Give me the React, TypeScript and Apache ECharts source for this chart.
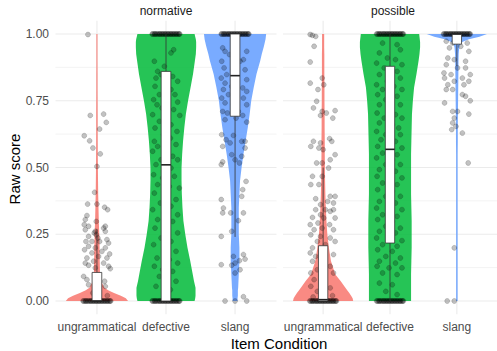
import React, { useEffect, useRef } from "react";
import * as echarts from "echarts";

const categories = ["ungrammatical", "defective", "slang"];
const panelNames = ["normative", "possible"];
const yLabelTicks = [0, 0.25, 0.5, 0.75, 1];
const yMinorTicks = [0.125, 0.375, 0.625, 0.875];
const fillColors = ["#F8766D", "#00BA38", "#619CFF"];

// violin density profiles (relative half-width, 1 = widest) at these score levels
const densityLevels = [0, 0.01, 0.02, 0.03, 0.04, 0.05, 0.075, 0.1, 0.15, 0.2, 0.25, 0.3, 0.35, 0.4, 0.45, 0.5, 0.55, 0.6, 0.65, 0.7, 0.75, 0.8, 0.85, 0.9, 0.925, 0.95, 0.96, 0.97, 0.98, 0.99, 1];
const densNormUngr = [1.0, 0.93, 0.77, 0.55, 0.36, 0.24, 0.13, 0.1, 0.09, 0.085, 0.075, 0.06, 0.05, 0.04, 0.035, 0.03, 0.027, 0.025, 0.024, 0.024, 0.022, 0.02, 0.02, 0.018, 0.018, 0.018, 0.018, 0.018, 0.018, 0.018, 0.018];
const densNormDef = [0.92, 0.94, 0.95, 0.95, 0.95, 0.95, 0.9, 0.86, 0.78, 0.69, 0.62, 0.56, 0.53, 0.51, 0.5, 0.5, 0.52, 0.55, 0.59, 0.64, 0.71, 0.79, 0.87, 0.93, 0.96, 0.97, 0.97, 0.97, 0.96, 0.94, 0.92];
const densNormSlang = [0.08, 0.08, 0.09, 0.09, 0.09, 0.1, 0.11, 0.12, 0.14, 0.14, 0.12, 0.12, 0.12, 0.14, 0.16, 0.21, 0.27, 0.34, 0.41, 0.47, 0.52, 0.6, 0.69, 0.81, 0.86, 0.92, 0.94, 0.96, 0.98, 0.99, 1.0];
const densPossUngr = [1.0, 0.98, 0.93, 0.87, 0.8, 0.74, 0.58, 0.4, 0.26, 0.19, 0.14, 0.11, 0.09, 0.075, 0.065, 0.06, 0.055, 0.055, 0.05, 0.05, 0.045, 0.045, 0.04, 0.04, 0.04, 0.035, 0.035, 0.035, 0.035, 0.035, 0.035];
const densPossDef = [0.7, 0.7, 0.7, 0.7, 0.7, 0.7, 0.7, 0.7, 0.71, 0.72, 0.72, 0.72, 0.71, 0.7, 0.7, 0.7, 0.7, 0.71, 0.72, 0.73, 0.76, 0.8, 0.88, 0.95, 0.98, 1.0, 1.0, 1.0, 0.99, 0.98, 0.97];
const densPossSlang = [0.025, 0.025, 0.025, 0.025, 0.025, 0.025, 0.025, 0.025, 0.025, 0.025, 0.025, 0.025, 0.025, 0.025, 0.025, 0.025, 0.025, 0.03, 0.03, 0.035, 0.04, 0.045, 0.05, 0.055, 0.06, 0.08, 0.1, 0.18, 0.4, 0.75, 1.0];

// boxplot stats: [lower whisker, Q1, median, Q3, upper whisker]
const boxNormUngr = [0, 0, 0, 0.107, 0.27];
const boxNormDef = [0, 0, 0.51, 0.86, 1];
const boxNormSlang = [0.24, 0.692, 0.844, 1, 1];
const boxPossUngr = [0, 0, 0.005, 0.207, 0.5];
const boxPossDef = [0, 0.217, 0.568, 0.879, 1];
const boxPossSlang = [0.88, 0.962, 1, 1, 1];

// jittered raw points: [horizontal jitter (category units), raw score]
const ptsNormUngr = [[-0.13,0.998],[-0.097,0.695],[0.097,0.7],[0.135,0.669],[0.039,0.644],[-0.184,0.619],[-0.106,0.6],[-0.058,0.573],[0.048,0.551],[0,0.504],[-0.034,0.407],[-0.135,0.363],[0,0.363],[0.111,0.351],[0.155,0.342],[-0.145,0.32],[-0.169,0.305],[-0.01,0.298],[-0.184,0.286],[-0.121,0.28],[0.121,0.28],[0.097,0.273],[-0.169,0.267],[-0.024,0.261],[0.121,0.261],[-0.039,0.255],[-0.121,0.242],[-0.01,0.248],[0.014,0.236],[0.145,0.23],[-0.159,0.223],[-0.072,0.223],[0.039,0.223],[0.169,0.217],[-0.121,0.205],[-0.024,0.199],[0.121,0.199],[-0.179,0.192],[0.072,0.186],[-0.072,0.18],[0.184,0.176],[-0.145,0.161],[0.024,0.167],[0.145,0.161],[-0.048,0.149],[-0.169,0.142],[0.097,0.142],[-0.121,0.134],[0.169,0.13],[-0.024,0.124],[0.193,0.121],[-0.193,0.092],[-0.145,0.08],[0.111,0.074],[-0.121,0.061],[0.121,0.055],[-0.06,0.03],[0.15,0.02]];
const ptsNormDef = [[-0.169,0.898],[0.072,0.929],[0.111,0.941],[-0.024,0.879],[-0.121,0.86],[-0.072,0.848],[-0.145,0.835],[0.097,0.841],[0.169,0.823],[-0.159,0.804],[0.072,0.792],[-0.097,0.773],[0.13,0.773],[0.024,0.767],[-0.179,0.754],[-0.13,0.735],[0.169,0.745],[-0.058,0.723],[0.111,0.717],[-0.193,0.698],[0.014,0.7],[0.2,0.695],[-0.097,0.673],[0.072,0.66],[-0.159,0.648],[0.159,0.635],[-0.034,0.623],[-0.169,0.598],[0.063,0.61],[-0.121,0.579],[0.145,0.586],[-0.193,0.561],[0,0.554],[0.097,0.542],[-0.072,0.529],[0.169,0.529],[-0.145,0.511],[0.072,0.498],[-0.179,0.473],[-0.048,0.461],[0.121,0.467],[-0.121,0.436],[0.048,0.429],[0.193,0.423],[-0.169,0.404],[0,0.392],[0.145,0.38],[-0.082,0.367],[0.072,0.355],[-0.193,0.342],[-0.024,0.33],[0.169,0.323],[-0.121,0.305],[0.097,0.298],[-0.159,0.273],[0.014,0.261],[0.169,0.255],[-0.072,0.236],[0.072,0.223],[-0.179,0.211],[-0.024,0.192],[0.145,0.186],[-0.13,0.161],[0.048,0.155],[0.169,0.142],[-0.169,0.13],[-0.048,0.117],[0.097,0.111],[-0.097,0.092],[0.024,0.08],[0.145,0.074],[-0.145,0.055],[0.063,0.042]];
const ptsNormSlang = [[-0.179,0.948],[-0.145,0.935],[0.169,0.935],[-0.082,0.923],[0.121,0.904],[-0.193,0.898],[0.072,0.898],[-0.159,0.873],[-0.024,0.866],[0.145,0.866],[-0.121,0.848],[-0.2,0.835],[0.024,0.835],[0.169,0.829],[-0.145,0.816],[-0.048,0.804],[-0.169,0.792],[0.111,0.798],[0.169,0.785],[-0.097,0.773],[0.024,0.767],[-0.193,0.76],[0.121,0.76],[-0.145,0.742],[-0.024,0.735],[0.169,0.735],[-0.179,0.71],[-0.111,0.704],[0.048,0.71],[0.111,0.695],[-0.145,0.679],[0.014,0.685],[0.169,0.67],[-0.193,0.623],[-0.024,0.62],[-0.13,0.604],[0.097,0.598],[0.145,0.598],[-0.072,0.592],[-0.179,0.579],[0.145,0.573],[-0.048,0.548],[0.097,0.542],[0,0.529],[0.063,0.517],[-0.179,0.521],[-0.2,0.511],[0.159,0.448],[0.111,0.417],[0.097,0.392],[-0.2,0.38],[-0.169,0.348],[-0.179,0.33],[-0.063,0.33],[0.121,0.33],[0.048,0.301],[-0.048,0.261],[-0.2,0.242],[-0.024,0.167],[0.121,0.174],[0.145,0.157],[0,0.142],[-0.048,0.134],[0.063,0.151],[-0.2,0.136],[0,0.105],[0.072,0.117],[-0.145,0],[0.121,0.016],[0.169,0],[0,0]];
const ptsPossUngr = [[-0.193,0.998],[-0.159,0.995],[-0.111,0.991],[-0.135,0.954],[-0.193,0.895],[-0.193,0.816],[-0.014,0.835],[-0.077,0.792],[0.01,0.81],[-0.097,0.748],[-0.145,0.723],[-0.014,0.71],[0.048,0.704],[0.179,0.713],[-0.039,0.695],[0.145,0.685],[-0.145,0.598],[-0.184,0.579],[-0.039,0.592],[-0.063,0.573],[0.097,0.608],[0.13,0.598],[0.179,0.548],[0,0.567],[0.106,0.529],[-0.097,0.517],[-0.014,0.517],[0.082,0.498],[-0.159,0.467],[-0.184,0.436],[-0.014,0.467],[-0.063,0.436],[-0.111,0.383],[0.106,0.392],[0.179,0.392],[0.155,0.367],[-0.039,0.361],[0.068,0.373],[-0.111,0.342],[0.034,0.342],[0.155,0.342],[0.106,0.336],[-0.039,0.323],[-0.159,0.313],[0.01,0.311],[0.179,0.311],[-0.077,0.292],[-0.193,0.286],[0.097,0.286],[-0.014,0.273],[-0.135,0.267],[0.155,0.267],[-0.184,0.248],[-0.039,0.242],[0.106,0.236],[-0.087,0.223],[0.179,0.223],[-0.159,0.199],[0.034,0.211],[-0.193,0.18],[-0.111,0.167],[0.155,0.174],[-0.159,0.149],[-0.014,0.136],[0.106,0.13],[-0.087,0.117],[-0.184,0.105],[0.155,0.105],[-0.135,0.08],[0.01,0.074],[-0.184,0.055],[0.106,0.049],[-0.087,0.036],[0.14,0.02],[-0.15,0.015]];
const ptsPossDef = [[-0.111,0.966],[0.106,0.96],[-0.159,0.929],[0.155,0.941],[-0.039,0.91],[0.082,0.904],[-0.2,0.891],[0.179,0.885],[-0.087,0.873],[0.106,0.86],[-0.159,0.848],[0.155,0.835],[-0.039,0.823],[-0.2,0.81],[0.058,0.804],[-0.111,0.792],[0.179,0.792],[-0.184,0.773],[0.106,0.767],[-0.063,0.754],[-0.159,0.735],[0.155,0.735],[0.01,0.723],[-0.193,0.704],[0.082,0.698],[-0.087,0.685],[0.179,0.685],[-0.159,0.667],[0.034,0.66],[0.13,0.648],[-0.2,0.635],[-0.063,0.623],[0.155,0.623],[-0.135,0.604],[0.082,0.598],[-0.184,0.579],[-0.014,0.573],[0.179,0.573],[-0.111,0.554],[0.106,0.548],[-0.2,0.536],[0.034,0.529],[-0.063,0.511],[0.155,0.511],[-0.159,0.492],[0.082,0.486],[-0.193,0.467],[-0.014,0.461],[0.179,0.461],[-0.111,0.442],[0.106,0.436],[-0.184,0.417],[0.034,0.411],[-0.063,0.392],[0.155,0.392],[-0.159,0.373],[0.082,0.367],[-0.2,0.348],[-0.014,0.342],[0.179,0.342],[-0.111,0.323],[0.106,0.317],[-0.184,0.305],[0.034,0.298],[-0.063,0.28],[0.155,0.273],[-0.159,0.261],[0.082,0.255],[-0.2,0.236],[-0.014,0.23],[0.179,0.226],[-0.111,0.211],[0.106,0.205],[-0.184,0.192],[0.034,0.186],[-0.063,0.167],[0.155,0.161],[-0.159,0.149],[0.082,0.142],[-0.193,0.13],[-0.014,0.124],[0.179,0.124],[-0.111,0.105],[0.106,0.099],[-0.159,0.067],[0.034,0.061],[-0.063,0.036],[0.106,0.024]];
const ptsPossSlang = [[-0.159,0.973],[-0.063,0.966],[0.155,0.966],[-0.111,0.948],[0.058,0.954],[0.179,0.935],[-0.135,0.91],[-0.039,0.904],[0.13,0.898],[-0.159,0.885],[0.01,0.873],[-0.193,0.854],[0.13,0.873],[-0.087,0.848],[0.2,0.848],[-0.184,0.835],[0.082,0.835],[-0.039,0.823],[0.179,0.823],[-0.135,0.81],[0.106,0.81],[-0.159,0.792],[-0.063,0.792],[0.082,0.773],[0.13,0.767],[0.2,0.75],[-0.184,0.742],[-0.063,0.71],[0.01,0.71],[0.179,0.7],[-0.039,0.685],[-0.063,0.667],[-0.014,0.654],[-0.077,0.642],[0.082,0.629],[0.169,0.517],[-0.039,0.199],[-0.145,0],[-0.039,0]];

// piles of identical scores at the scale ends
const edgeJitter = [-0.2, -0.19, -0.17, -0.16, -0.15, -0.13, -0.12, -0.1, -0.09, -0.08, -0.06, -0.05, -0.04, -0.02, -0.01, 0, 0.02, 0.03, 0.04, 0.06, 0.07, 0.08, 0.1, 0.11, 0.12, 0.14, 0.15, 0.16, 0.18, 0.19, 0.2];
const edgeNormUngr = [0];
const edgeNormDef = [0, 1];
const edgeNormSlang = [1];
const edgePossUngr = [0];
const edgePossDef = [0, 1];
const edgePossSlang = [1];

const panelData = [
  [
    { dens: densNormUngr, box: boxNormUngr, pts: ptsNormUngr, edges: edgeNormUngr },
    { dens: densNormDef, box: boxNormDef, pts: ptsNormDef, edges: edgeNormDef },
    { dens: densNormSlang, box: boxNormSlang, pts: ptsNormSlang, edges: edgeNormSlang },
  ],
  [
    { dens: densPossUngr, box: boxPossUngr, pts: ptsPossUngr, edges: edgePossUngr },
    { dens: densPossDef, box: boxPossDef, pts: ptsPossDef, edges: edgePossDef },
    { dens: densPossSlang, box: boxPossSlang, pts: ptsPossSlang, edges: edgePossSlang },
  ],
];

const VIOLIN_HALF = 0.45;
const BOX_HALF = 0.07;
const FONT = "'Liberation Sans', Arial, Helvetica, sans-serif";

function buildOption() {
  const grids = [
    { left: 55.5, top: 20.65, width: 221, height: 293.7 },
    { left: 283, top: 20.65, width: 221, height: 293.7 },
  ];
  const xAxes = grids.map((_, i) => ({
    type: "value",
    gridIndex: i,
    min: 0.4,
    max: 3.6,
    axisLine: { show: false },
    axisTick: { show: false },
    splitLine: { show: false },
    axisLabel: {
      customValues: [1, 2, 3],
      formatter: (v: number) => categories[Math.round(v) - 1] || "",
      color: "#4D4D4D",
      fontSize: 12,
      fontFamily: FONT,
      margin: 7,
    },
  }));
  const yAxes = grids.map((_, i) => ({
    type: "value",
    gridIndex: i,
    min: -0.05,
    max: 1.05,
    axisLine: { show: false },
    axisTick: { show: false },
    splitLine: { show: false },
    axisLabel: {
      show: i === 0,
      customValues: yLabelTicks,
      formatter: (v: number) => v.toFixed(2),
      color: "#4D4D4D",
      fontSize: 12,
      fontFamily: FONT,
      margin: 6.5,
    },
  }));

  const series: any[] = [];
  panelData.forEach((groups, p) => {
    // grid lines
    series.push({
      type: "custom",
      xAxisIndex: p,
      yAxisIndex: p,
      silent: true,
      z: 0,
      data: [[2, 0.5]],
      renderItem: (_params: any, api: any) => {
        const children: any[] = [];
        const hline = (v: number, w: number) => {
          const a = api.coord([0.4, v]);
          const b = api.coord([3.6, v]);
          children.push({ type: "line", shape: { x1: a[0], y1: a[1], x2: b[0], y2: b[1] }, style: { stroke: "#EBEBEB", lineWidth: w } });
        };
        yMinorTicks.forEach((v) => hline(v, 0.6));
        yLabelTicks.forEach((v) => hline(v, 1.1));
        [1, 2, 3].forEach((c) => {
          const a = api.coord([c, -0.05]);
          const b = api.coord([c, 1.05]);
          children.push({ type: "line", shape: { x1: a[0], y1: a[1], x2: b[0], y2: b[1] }, style: { stroke: "#EBEBEB", lineWidth: 1.1 } });
        });
        return { type: "group", children };
      },
    });
    // violins
    series.push({
      type: "custom",
      xAxisIndex: p,
      yAxisIndex: p,
      silent: true,
      z: 1,
      data: [[1, 0.5], [2, 0.5], [3, 0.5]],
      renderItem: (_params: any, api: any) => {
        const c = api.value(0);
        const dens = groups[c - 1].dens;
        const pts: number[][] = [];
        for (let i = 0; i < densityLevels.length; i++) pts.push(api.coord([c + dens[i] * VIOLIN_HALF, densityLevels[i]]));
        for (let i = densityLevels.length - 1; i >= 0; i--) pts.push(api.coord([c - dens[i] * VIOLIN_HALF, densityLevels[i]]));
        return { type: "polygon", shape: { points: pts }, style: { fill: fillColors[c - 1], opacity: 0.85 } };
      },
    });
    // jittered points
    const scatterData: number[][] = [];
    groups.forEach((g, ci) => {
      g.pts.forEach(([dx, v]) => scatterData.push([ci + 1 + dx, v]));
      g.edges.forEach((v) => edgeJitter.forEach((dx) => scatterData.push([ci + 1 + dx, v])));
    });
    series.push({
      type: "scatter",
      xAxisIndex: p,
      yAxisIndex: p,
      silent: true,
      z: 2,
      symbolSize: 5,
      itemStyle: { color: "rgba(0,0,0,0.3)", borderColor: "rgba(0,0,0,0.32)", borderWidth: 0.6 },
      data: scatterData,
    });
    // boxplots
    series.push({
      type: "custom",
      xAxisIndex: p,
      yAxisIndex: p,
      silent: true,
      z: 3,
      data: groups.map((g, ci) => [ci + 1, ...g.box]),
      renderItem: (_params: any, api: any) => {
        const c = api.value(0);
        const lo = api.value(1), q1 = api.value(2), med = api.value(3), q3 = api.value(4), hi = api.value(5);
        const tl = api.coord([c - BOX_HALF, q3]);
        const br = api.coord([c + BOX_HALF, q1]);
        const wLo = api.coord([c, lo]);
        const wQ1 = api.coord([c, q1]);
        const wQ3 = api.coord([c, q3]);
        const wHi = api.coord([c, hi]);
        const mL = api.coord([c - BOX_HALF, med]);
        const mR = api.coord([c + BOX_HALF, med]);
        const stroke = "#333333";
        return {
          type: "group",
          children: [
            { type: "line", shape: { x1: wLo[0], y1: wLo[1], x2: wQ1[0], y2: wQ1[1] }, style: { stroke, lineWidth: 0.8 } },
            { type: "line", shape: { x1: wQ3[0], y1: wQ3[1], x2: wHi[0], y2: wHi[1] }, style: { stroke, lineWidth: 0.8 } },
            { type: "rect", shape: { x: tl[0], y: tl[1], width: br[0] - tl[0], height: Math.max(br[1] - tl[1], 0.5) }, style: { fill: "#FFFFFF", stroke, lineWidth: 0.8 } },
            { type: "line", shape: { x1: mL[0], y1: mL[1], x2: mR[0], y2: mR[1] }, style: { stroke: "#222222", lineWidth: 1.6 } },
          ],
        };
      },
    });
  });

  return {
    animation: false,
    grid: grids,
    xAxis: xAxes,
    yAxis: yAxes,
    series,
    graphic: [
      { type: "text", x: 166, y: 11, style: { text: panelNames[0], align: "center", verticalAlign: "middle", fill: "#1A1A1A", fontSize: 12, fontFamily: FONT } },
      { type: "text", x: 393, y: 11, style: { text: panelNames[1], align: "center", verticalAlign: "middle", fill: "#1A1A1A", fontSize: 12, fontFamily: FONT } },
      { type: "text", x: 14, y: 169, rotation: Math.PI / 2, style: { text: "Raw score", align: "center", verticalAlign: "middle", fill: "#000000", fontSize: 15, fontFamily: FONT } },
      { type: "text", x: 279, y: 343, style: { text: "Item Condition", align: "center", verticalAlign: "middle", fill: "#000000", fontSize: 15, fontFamily: FONT } },
    ],
  };
}

export default function App() {
  const ref = useRef<HTMLDivElement>(null);
  useEffect(() => {
    if (!ref.current) return;
    const chart = echarts.init(ref.current, null, { renderer: "svg" });
    chart.setOption(buildOption() as any);
    return () => chart.dispose();
  }, []);
  return (
    <div
      ref={ref}
      style={{ position: "absolute", left: 0, top: 0, width: 497, height: 351, background: "#FFFFFF" }}
    />
  );
}
